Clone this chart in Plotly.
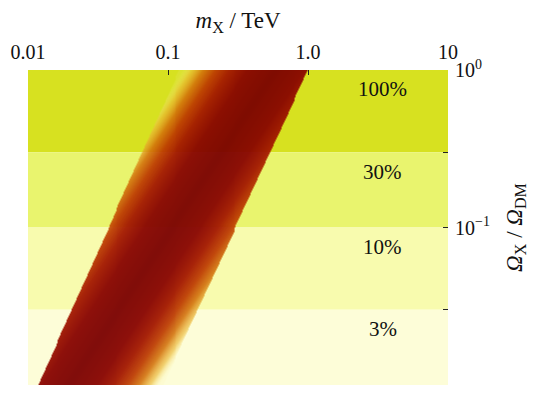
import numpy as np
import plotly.graph_objects as go

# ---- data ----
# fractional abundance bands Omega_X / Omega_DM
band_lower = [0.3, 0.1, 0.03, 0.01]
band_upper = [1.0, 0.3, 0.1, 0.03]
band_labels = ["100%", "30%", "10%", "3%"]
band_colors = ["#d7e120", "#e9f46e", "#f8fbae", "#fdfdd8"]

# allowed mass band (TeV): edges at Omega = 0.01 and Omega = 1
edge_omega = [0.01, 1.0]
edge_left_m = [0.0118, 0.12]
edge_right_m = [0.092, 1.0]
ridge_frac = [0.25, 0.75]  # darkest ridge position across band (bottom, top)

x_tickvals = [0.01, 0.1, 1.0, 10]
x_ticktext = ["0.01", "0.1", "1.0", "10"]
y_tickvals = [1, 0.3, 0.1, 0.03, 0.01]
y_ticktext = ["10<sup>0</sup>", "", "10<sup>−1</sup>", "", "10<sup>−2</sup>"]

SERIF = "Liberation Serif, Times New Roman, Times, serif"

# ---- build the band as a heatmap ----
nx, ny = 290, 315
lx = np.linspace(-2.0, 0.03, nx)
ly = np.linspace(np.log10(edge_omega[0]), np.log10(edge_omega[1]), ny)
s = (ly - ly[0]) / (ly[-1] - ly[0])
L = np.log10(edge_left_m[0]) + s * (np.log10(edge_left_m[1]) - np.log10(edge_left_m[0]))
R = np.log10(edge_right_m[0]) + s * (np.log10(edge_right_m[1]) - np.log10(edge_right_m[0]))
ur = ridge_frac[0] + s * (ridge_frac[1] - ridge_frac[0])
U = (lx[None, :] - L[:, None]) / (R - L)[:, None]
F = np.abs(U - ur[:, None]) / 0.72
F = np.clip(F, 0, 1)
F[(U < 0) | (U > 1)] = np.nan
z = [[None if np.isnan(v) else round(float(v), 3) for v in row] for row in F]

colorscale = [
    [0.0, "rgba(122,0,0,0.95)"],
    [0.3, "rgba(136,3,0,0.95)"],
    [0.5, "rgba(163,24,0,0.95)"],
    [0.65, "rgba(188,58,0,0.93)"],
    [0.78, "rgba(210,112,10,0.88)"],
    [0.9, "rgba(235,185,55,0.65)"],
    [1.0, "rgba(252,242,165,0.12)"],
]

fig = go.Figure()
fig.add_trace(go.Heatmap(
    x=(10 ** lx).tolist(), y=(10 ** ly).tolist(), z=z,
    colorscale=colorscale, zmin=0, zmax=1, showscale=False,
    hoverinfo="skip",
))

shapes = []
for lo, hi, c in zip(band_lower, band_upper, band_colors):
    shapes.append(dict(type="rect", xref="paper", x0=0, x1=1, yref="y",
                       y0=lo, y1=hi, fillcolor=c, line=dict(width=0),
                       layer="below"))

annotations = []
for hi, lab in zip(band_upper, band_labels):
    annotations.append(dict(text=lab, xref="paper", x=0.845, xanchor="center",
                            yref="y", y=np.log10(hi * 0.755), yanchor="middle",
                            showarrow=False,
                            font=dict(family=SERIF, size=21, color="#111")))

# the page body has an 8px default margin, so the figure is 8px smaller
fig.update_layout(
    width=531, height=386,
    margin=dict(l=20, r=91, t=62, b=9),
    paper_bgcolor="white", plot_bgcolor="white",
    font=dict(family=SERIF, size=20, color="#111"),
    shapes=shapes, annotations=annotations,
    showlegend=False,
    xaxis=dict(type="log", side="top", range=[-2, 1], showgrid=False,
               zeroline=False, showline=False, automargin=False,
               tickvals=x_tickvals, ticktext=x_ticktext,
               ticks="inside", ticklen=5, tickcolor="#222",
               ticklabelstandoff=6,
               tickfont=dict(family=SERIF, size=20),
               title=dict(text="<i>m</i><sub>X</sub> / TeV",
                          font=dict(family=SERIF, size=23), standoff=10)),
    yaxis=dict(type="log", side="right", range=[-2, 0], showgrid=False,
               zeroline=False, showline=False, automargin=False,
               tickvals=y_tickvals, ticktext=y_ticktext,
               ticks="inside", ticklen=5, tickcolor="#222",
               ticklabelstandoff=6,
               tickfont=dict(family=SERIF, size=20),
               title=dict(text="<i>Ω</i><sub>X</sub> / <i>Ω</i><sub>DM</sub>",
                          font=dict(family=SERIF, size=23), standoff=16)),
)

fig.write_html("out.html")
